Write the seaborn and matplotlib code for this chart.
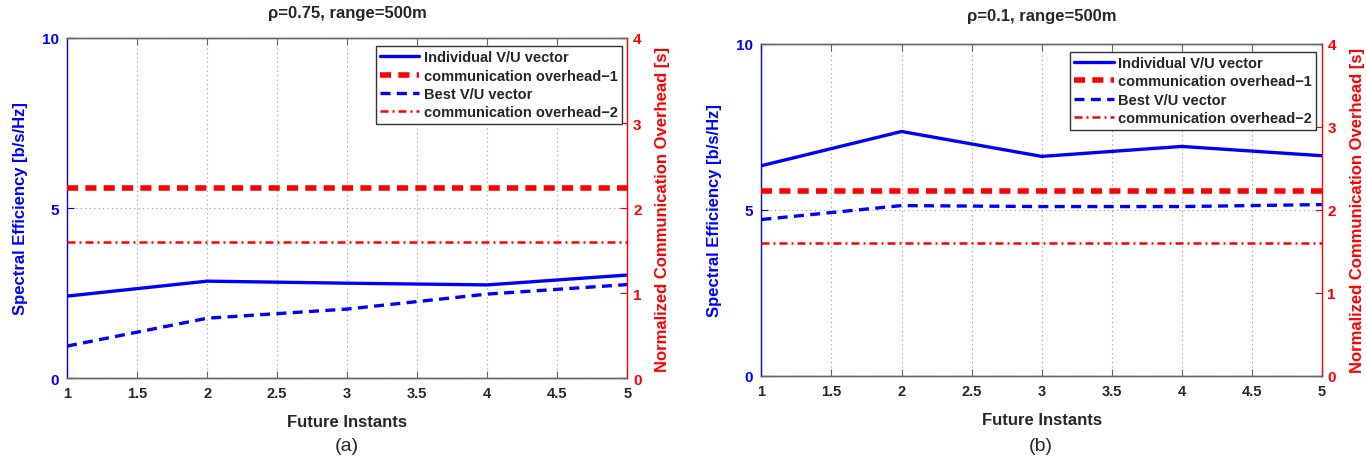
import numpy as np
import pandas as pd
import matplotlib
matplotlib.use("Agg")
import matplotlib.pyplot as plt
import seaborn as sns

sns.set_style("white")
plt.rcParams["font.family"] = ["Liberation Sans", "DejaVu Sans"]

# Data
instants = [1, 2, 3, 4, 5]
xticks = [1, 1.5, 2, 2.5, 3, 3.5, 4, 4.5, 5]

titles = ["ρ=0.75, range=500m", "ρ=0.1, range=500m"]
panel_tags = ["(a)", "(b)"]

individual_a = [2.41, 2.85, 2.79, 2.74, 3.03]
best_a = [0.94, 1.76, 2.03, 2.47, 2.75]
overhead1_a = [2.23, 2.23, 2.23, 2.23, 2.23]
overhead2_a = [1.60, 1.60, 1.60, 1.60, 1.60]

individual_b = [6.33, 7.36, 6.61, 6.91, 6.63]
best_b = [4.71, 5.13, 5.10, 5.10, 5.16]
overhead1_b = [2.23, 2.23, 2.23, 2.23, 2.23]
overhead2_b = [1.60, 1.60, 1.60, 1.60, 1.60]

panels = [
    (individual_a, best_a, overhead1_a, overhead2_a),
    (individual_b, best_b, overhead1_b, overhead2_b),
]

BLUE = "#0000ff"
RED = "#ff0000"
GREY = "#666666"

fig = plt.figure(figsize=(13.67, 4.64), dpi=100)
positions = [
    [0.049, 0.183, 0.410, 0.733],
    [0.557, 0.1875, 0.410, 0.716],
]
title_pads = [15, 17]
tag_x = [0.254, 0.761]

for i, (ind, best, oh1, oh2) in enumerate(panels):
    ax = fig.add_axes(positions[i])
    ax2 = ax.twinx()

    df = pd.DataFrame({"x": instants, "ind": ind, "best": best, "oh1": oh1, "oh2": oh2})

    sns.lineplot(data=df, x="x", y="ind", ax=ax, color=BLUE, lw=2.4, label="Individual V/U vector", legend=False)
    sns.lineplot(data=df, x="x", y="best", ax=ax, color=BLUE, lw=2.4, label="Best V/U vector", legend=False)
    ax.lines[-1].set_dashes([3.0, 1.9])

    sns.lineplot(data=df, x="x", y="oh1", ax=ax2, color=RED, lw=4, label="communication overhead\u22121", legend=False)
    ax2.lines[-1].set_dashes([2.0, 1.3])
    sns.lineplot(data=df, x="x", y="oh2", ax=ax2, color=RED, lw=1.8, label="communication overhead\u22122", legend=False)
    ax2.lines[-1].set_dashes([3.2, 1.6, 0.8, 1.6])

    ax.set_xlim(1, 5)
    ax.set_ylim(0, 10)
    ax2.set_ylim(0, 4)
    ax.set_xticks(xticks)
    ax.set_xticklabels([f"{t:g}" for t in xticks], fontsize=10.5, fontweight="bold")
    ax.set_yticks([0, 5, 10])
    ax.set_yticklabels(["0", "5", "10"], fontsize=11, fontweight="bold", color=BLUE)
    ax2.set_yticks([0, 1, 2, 3, 4])
    ax2.set_yticklabels(["0", "1", "2", "3", "4"], fontsize=11, fontweight="bold", color=RED)

    ax.grid(True, which="major", axis="both", linestyle=(0, (1, 3)), color="#999999", lw=0.8)
    ax.set_axisbelow(True)

    ax.tick_params(axis="x", direction="in", top=True, bottom=True, length=5, color=GREY, pad=6)
    ax.tick_params(axis="y", direction="in", left=True, length=5, color=BLUE, pad=6)
    ax2.tick_params(axis="y", direction="in", right=True, length=5, color=RED, pad=4)

    for s in ["top", "bottom"]:
        ax.spines[s].set_color(GREY)
        ax2.spines[s].set_color(GREY)
    ax.spines["left"].set_color(BLUE)
    ax2.spines["left"].set_visible(False)
    ax2.spines["right"].set_color(RED)
    ax.spines["right"].set_visible(False)
    for a in (ax, ax2):
        for s in a.spines.values():
            s.set_linewidth(1.0)

    ax.set_xlabel("Future Instants", fontsize=12, fontweight="bold", labelpad=10)
    ax.set_ylabel("Spectral Efficiency [b/s/Hz]", fontsize=12, fontweight="bold", color=BLUE, labelpad=10)
    ax2.set_ylabel("Normalized Communication Overhead [s]", fontsize=12, fontweight="bold", color=RED, labelpad=10)
    ax.set_title(titles[i], fontsize=12, fontweight="bold", pad=title_pads[i])
    fig.text(tag_x[i], 1 - 447 / 464, panel_tags[i], ha="center", va="center", fontsize=14)

    h1, l1 = ax.get_legend_handles_labels()
    h2, l2 = ax2.get_legend_handles_labels()
    handles = [h1[0], h2[0], h1[1], h2[1]]
    labels = [l1[0], l2[0], l1[1], l2[1]]
    leg = ax2.legend(handles, labels, loc="upper right", bbox_to_anchor=(0.9955, 0.985),
                     prop={"weight": "bold", "size": 10.5}, frameon=True, fancybox=False,
                     edgecolor="#333333", framealpha=1, handlelength=2.7, handletextpad=0.3,
                     borderpad=0.3, labelspacing=0.3, borderaxespad=0.2)
    leg.get_frame().set_linewidth(1.0)

fig.savefig("out.png", dpi=100)
